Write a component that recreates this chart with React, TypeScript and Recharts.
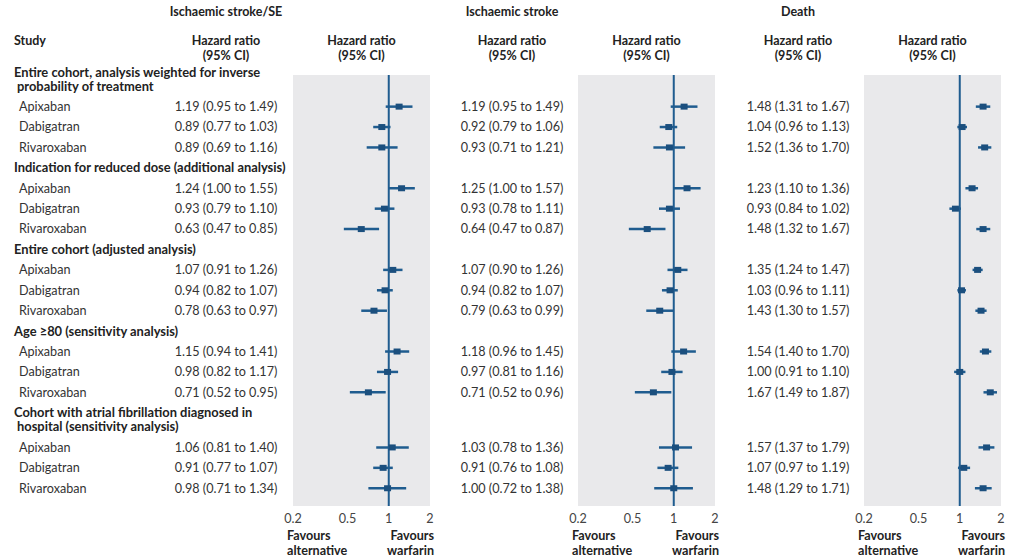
import { ScatterChart, Scatter, XAxis, YAxis, CartesianGrid, ErrorBar, ReferenceLine } from 'recharts'

const FONT = 'Lato, "Open Sans", sans-serif'
const TEXT = '#333'
const BLUE = '#1f5c8f'
const MARK = '#1b4f7e'
const PANEL_BG = '#e9e9eb'

const outcomes = ['Ischaemic stroke/SE', 'Ischaemic stroke', 'Death']
const drugs = ['Apixaban', 'Dabigatran', 'Rivaroxaban']
const groups = [
  ['Entire cohort, analysis weighted for inverse', 'probability of treatment'],
  ['Indication for reduced dose (additional analysis)'],
  ['Entire cohort (adjusted analysis)'],
  ['Age ≥80 (sensitivity analysis)'],
  ['Cohort with atrial fibrillation diagnosed in', 'hospital (sensitivity analysis)'],
]
const xTicks = [0.2, 0.5, 1, 2]

// hazard ratios, 3 drugs per group, 5 groups
const strokeSeHr = [1.19, 0.89, 0.89, 1.24, 0.93, 0.63, 1.07, 0.94, 0.78, 1.15, 0.98, 0.71, 1.06, 0.91, 0.98]
const strokeSeLo = [0.95, 0.77, 0.69, 1.0, 0.79, 0.47, 0.91, 0.82, 0.63, 0.94, 0.82, 0.52, 0.81, 0.77, 0.71]
const strokeSeHi = [1.49, 1.03, 1.16, 1.55, 1.1, 0.85, 1.26, 1.07, 0.97, 1.41, 1.17, 0.95, 1.4, 1.07, 1.34]

const strokeHr = [1.19, 0.92, 0.93, 1.25, 0.93, 0.64, 1.07, 0.94, 0.79, 1.18, 0.97, 0.71, 1.03, 0.91, 1.0]
const strokeLo = [0.95, 0.79, 0.71, 1.0, 0.78, 0.47, 0.9, 0.82, 0.63, 0.96, 0.81, 0.52, 0.78, 0.76, 0.72]
const strokeHi = [1.49, 1.06, 1.21, 1.57, 1.11, 0.87, 1.26, 1.07, 0.99, 1.45, 1.16, 0.96, 1.36, 1.08, 1.38]

const deathHr = [1.48, 1.04, 1.52, 1.23, 0.93, 1.48, 1.35, 1.03, 1.43, 1.54, 1.0, 1.67, 1.57, 1.07, 1.48]
const deathLo = [1.31, 0.96, 1.36, 1.1, 0.84, 1.32, 1.24, 0.96, 1.3, 1.4, 0.91, 1.49, 1.37, 0.97, 1.29]
const deathHi = [1.67, 1.13, 1.7, 1.36, 1.02, 1.67, 1.47, 1.11, 1.57, 1.7, 1.1, 1.87, 1.79, 1.19, 1.71]

const series = [
  { hr: strokeSeHr, lo: strokeSeLo, hi: strokeSeHi },
  { hr: strokeHr, lo: strokeLo, hi: strokeHi },
  { hr: deathHr, lo: deathLo, hi: deathHi },
]

// row layout: a two line heading takes 1.7 rows
type Row = { kind: 'header'; lines: string[]; v: number } | { kind: 'drug'; name: string; idx: number; v: number }
const rows: Row[] = []
let cursor = 0
groups.forEach((lines, g) => {
  rows.push({ kind: 'header', lines, v: cursor + (lines.length - 1) * 0.35 })
  cursor += 1 + (lines.length - 1) * 0.7
  drugs.forEach((name, d) => {
    rows.push({ kind: 'drug', name, idx: g * 3 + d, v: cursor })
    cursor += 1
  })
})
const rowTicks = rows.map(r => r.v)
const Y_DOMAIN = [0.15, 21.27]

const fmt = (n: number) => n.toFixed(2)

const panels = [
  { left: 0, width: 440, axisW: 293, right: 10, hrCenter: 226, study: true },
  { left: 440, width: 285, axisW: 138, right: 10, hrCenter: 72, study: false },
  { left: 725, width: 299, axisW: 139, right: 23, hrCenter: 73, study: false },
]

const RowTick = ({ y, payload, p, panel }: any) => {
  const row = rows.find(r => Math.abs(r.v - payload.value) < 1e-6)
  if (!row) return null
  if (row.kind === 'header') {
    if (!panel.study) return null
    const off = (row.lines.length - 1) * 7
    return (
      <g>
        {row.lines.map((l, i) => (
          <text key={i} x={i === 0 ? 14 : 17} y={y - off + i * 14} dy="0.35em" fontSize={12.9} fontWeight={700} fill="#222" fontFamily={FONT}>
            {l}
          </text>
        ))}
      </g>
    )
  }
  const s = series[p]
  return (
    <g>
      {panel.study && (
        <text x={19} y={y} dy="0.35em" fontSize={12.6} fill={TEXT} fontFamily={FONT}>{row.name}</text>
      )}
      <text x={panel.hrCenter} y={y} dy="0.35em" textAnchor="middle" fontSize={12.6} fill={TEXT} fontFamily={FONT}>
        {`${fmt(s.hr[row.idx])} (${fmt(s.lo[row.idx])} to ${fmt(s.hi[row.idx])})`}
      </text>
    </g>
  )
}

const FavoursLabel = ({ viewBox }: any) => {
  const { x, y, width } = viewBox
  const st = { fontSize: 12.6, fontWeight: 700, fill: '#222', fontFamily: FONT }
  return (
    <g>
      <text x={x - 6} y={y + 34} {...st}>Favours</text>
      <text x={x - 6} y={y + 49} {...st}>alternative</text>
      <text x={x + width + 4} y={y + 34} textAnchor="end" {...st}>Favours</text>
      <text x={x + width + 4} y={y + 49} textAnchor="end" {...st}>warfarin</text>
    </g>
  )
}

const Square = (props: any) => {
  const { cx, cy } = props
  if (cx == null || cy == null) return null
  return <rect x={cx - 3.5} y={cy - 3} width={7} height={6} fill={MARK} />
}

const headText = { position: 'absolute' as const, fontFamily: FONT, fontSize: 12.5, fontWeight: 700, color: '#222', textAlign: 'center' as const, lineHeight: '15px' }

export default function App() {
  return (
    <div style={{ position: 'absolute', left: 0, top: 0, width: 1024, height: 560, background: '#fff', fontFamily: FONT }}>
      <div style={{ ...headText, left: 14, top: 33 }}>Study</div>
      {panels.map((panel, p) => {
        const hrX = panel.left + panel.hrCenter
        const plotX = panel.left + panel.axisW + (panel.width - panel.axisW - panel.right) / 2
        return (
          <div key={p}>
            <div style={{ ...headText, left: hrX - 100, width: 200, top: 4 }}>{outcomes[p]}</div>
            <div style={{ ...headText, left: hrX - 60, width: 120, top: 33 }}>Hazard ratio<br />(95% CI)</div>
            <div style={{ ...headText, left: plotX - 60, width: 120, top: 33 }}>Hazard ratio<br />(95% CI)</div>
          </div>
        )
      })}
      {panels.map((panel, p) => {
        const s = series[p]
        const data = rows
          .filter(r => r.kind === 'drug')
          .map((r: any) => ({ v: r.v, hr: s.hr[r.idx], lo: s.lo[r.idx], hi: s.hi[r.idx] }))
        return (
          <div key={p} style={{ position: 'absolute', left: panel.left, top: 0 }}>
            <ScatterChart width={panel.width} height={560} margin={{ top: 75, right: panel.right, bottom: 0, left: 0 }}>
              <CartesianGrid horizontal={false} vertical={false} fill={PANEL_BG} />
              <XAxis
                type="number"
                dataKey="hr"
                scale="log"
                domain={[0.2, 2]}
                allowDataOverflow
                ticks={xTicks}
                interval={0}
                height={54}
                axisLine={false}
                tickLine={false}
                tick={{ fontSize: 12.6, fill: '#444', fontFamily: FONT }}
                tickMargin={2}
                label={{ content: <FavoursLabel /> } as any}
              />
              <YAxis
                type="number"
                dataKey="v"
                reversed
                domain={Y_DOMAIN}
                allowDataOverflow
                ticks={rowTicks}
                interval={0}
                width={panel.axisW}
                axisLine={false}
                tickLine={false}
                tick={(t: any) => <RowTick {...t} p={p} panel={panel} />}
              />
              <ReferenceLine x={1} stroke={BLUE} strokeWidth={2} />
              <Scatter data={data} shape={<Square />} isAnimationActive={false}>
                <ErrorBar
                  dataKey={(d: any) => [d.hr - d.lo, d.hi - d.hr]}
                  direction="x"
                  width={0}
                  stroke={BLUE}
                  strokeWidth={2.5}
                  isAnimationActive={false}
                />
              </Scatter>
            </ScatterChart>
          </div>
        )
      })}
    </div>
  )
}
